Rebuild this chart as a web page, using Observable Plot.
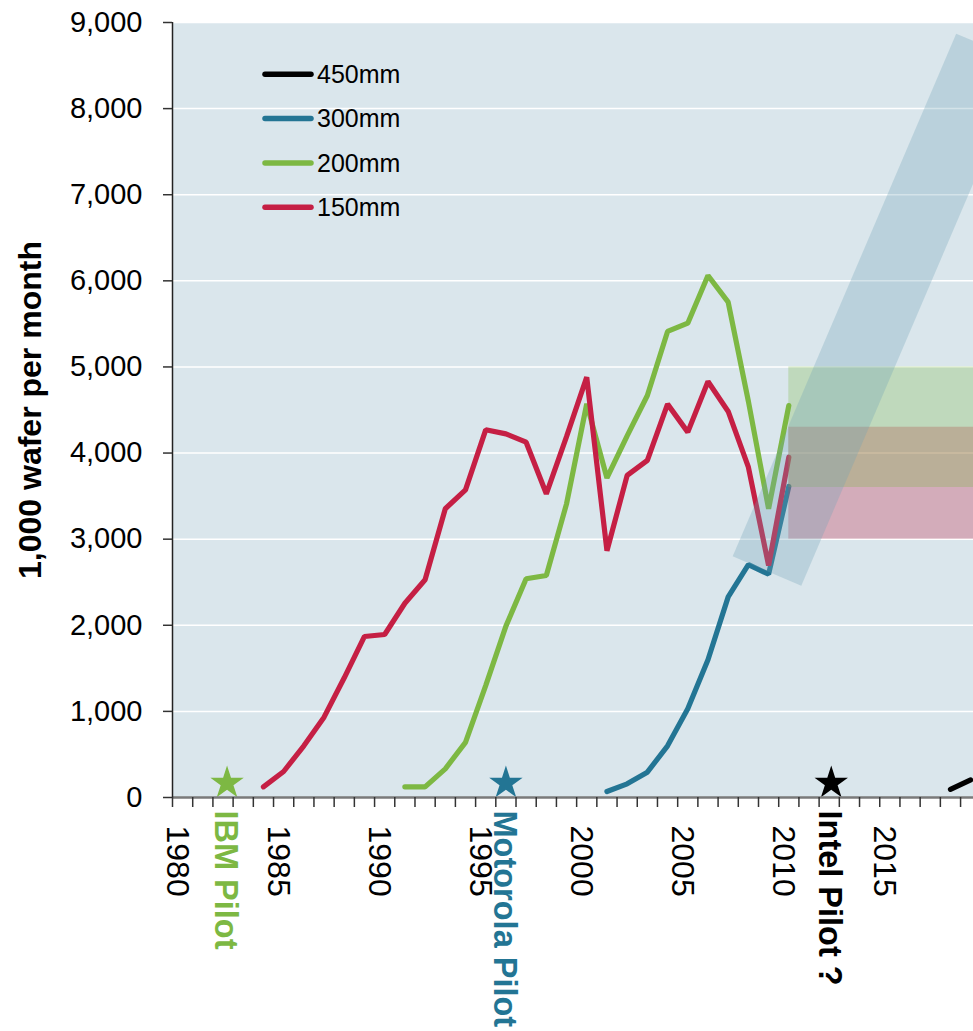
<!DOCTYPE html>
<html><head><meta charset="utf-8">
<script src="https://cdn.jsdelivr.net/npm/d3@7"></script>
<script src="https://cdn.jsdelivr.net/npm/@observablehq/plot@0.6"></script>
<style>
body{margin:0;background:#fff;}
#wrap{position:relative;width:973px;height:1031px;overflow:hidden;font-family:"Liberation Sans",Arial,sans-serif;}
#legend{position:absolute;left:0;top:0;}
</style></head><body><div id="wrap"></div>
<script>
// ---- data ----
const sizes = ["450mm", "300mm", "200mm", "150mm"];
const sizeColors = ["#000000", "#237594", "#7db843", "#c51f44"];

const years450 = [2018, 2019];
const wafers450 = [95, 205];

const years300 = [2001, 2002, 2003, 2004, 2005, 2006, 2007, 2008, 2009, 2010];
const wafers300 = [70, 159, 294, 600, 1030, 1600, 2330, 2705, 2593, 3612];

const years200 = [1991, 1992, 1993, 1994, 1995, 1996, 1997, 1998, 1999, 2000,
                  2001, 2002, 2003, 2004, 2005, 2006, 2007, 2008, 2009, 2010];
const wafers200 = [124, 124, 333, 640, 1300, 1990, 2540, 2578, 3410, 4571,
                   3711, 4200, 4668, 5412, 5508, 6062, 5752, 4600, 3353, 4552];

const years150 = [1984, 1985, 1986, 1987, 1988, 1989, 1990, 1991, 1992, 1993,
                  1994, 1995, 1996, 1997, 1998, 1999, 2000, 2001, 2002, 2003,
                  2004, 2005, 2006, 2007, 2008, 2009, 2010];
const wafers150 = [124, 302, 600, 933, 1390, 1870, 1893, 2256, 2528, 3353,
                   3573, 4270, 4223, 4126, 3527, 4190, 4881, 2865, 3740, 3914,
                   4568, 4243, 4831, 4483, 3836, 2694, 3952];

// forecast ranges after 2010
const rangeSizes = ["150mm", "200mm"];
const rangeLow = [3000, 3600];
const rangeHigh = [4300, 5000];
const rangeStart = [2010, 2010];
const rangeEnd = [2021, 2021];
const rangeColors = ["#c41e42", "#7ab842"];
const rangeOpacity = [0.29, 0.28];

// 450mm growth corridor (centre line)
const corridorYears = [2009.42, 2020.48];
const corridorValues = [2630, 8700];

// pilot lines
const pilotNames = ["IBM Pilot", "Motorola Pilot", "Intel Pilot ?"];
const pilotYears = [1982.7, 1996.5, 2012.6];
const pilotLevel = [167, 167, 167];
const pilotColors = ["#7db843", "#237594", "#000000"];

const yTicks = [0, 1000, 2000, 3000, 4000, 5000, 6000, 7000, 8000, 9000];
const xTickYears = [1980,1981,1982,1983,1984,1985,1986,1987,1988,1989,1990,1991,1992,1993,1994,1995,1996,1997,1998,1999,
                    2000,2001,2002,2003,2004,2005,2006,2007,2008,2009,2010,2011,2012,2013,2014,2015,2016,2017,2018,2019];
const xLabelYears = [1980, 1985, 1990, 1995, 2000, 2005, 2010, 2015];
const yTitle = "1,000 wafer per month";

// ---- build tables ----
const seriesYears = {"450mm": years450, "300mm": years300, "200mm": years200, "150mm": years150};
const seriesVals = {"450mm": wafers450, "300mm": wafers300, "200mm": wafers200, "150mm": wafers150};
const rows = [];
for (const s of sizes) seriesYears[s].forEach((y, i) => rows.push({size: s, year: y, value: seriesVals[s][i]}));
const ranges = rangeSizes.map((s, i) => ({size: s, low: rangeLow[i], high: rangeHigh[i], start: rangeStart[i], end: rangeEnd[i], color: rangeColors[i], op: rangeOpacity[i]}));
const corridor = corridorYears.map((y, i) => ({year: y, value: corridorValues[i]}));
const pilots = pilotNames.map((n, i) => ({name: n, year: pilotYears[i], level: pilotLevel[i], color: pilotColors[i]}));

const font = '"Liberation Sans", Arial, sans-serif';
const mid = d => d.year + 0.5; // category centre

const chart = Plot.plot({
  width: 973, height: 1031,
  marginLeft: 172, marginRight: 0, marginTop: 22, marginBottom: 234,
  style: {fontFamily: font, background: "transparent", color: "#000", overflow: "visible"},
  x: {domain: [1980, 2019.64], axis: null},
  y: {domain: [0, 9000], axis: null},
  color: {domain: sizes, range: sizeColors},
  marks: [
    Plot.frame({fill: "#dae6ec", stroke: null}),
    Plot.gridY(yTicks.slice(1), {stroke: "#ffffff", strokeOpacity: 1, strokeWidth: 1.5}),
    Plot.line(rows, {x: mid, y: "value", z: "size", stroke: "size", strokeWidth: 5.2,
      strokeLinejoin: "miter", strokeLinecap: "round", clip: true}),
    ...ranges.map(r => Plot.rect([r], {x1: d => d.start + 0.5, x2: "end", y1: "low", y2: "high",
      fill: r.color, fillOpacity: r.op, clip: true})),
    Plot.line(corridor, {x: "year", y: "value", stroke: "#6fa3b7", strokeOpacity: 0.3,
      strokeWidth: 74.6, strokeLinecap: "butt", clip: true}),
    Plot.dot(pilots, {x: "year", y: "level", symbol: "star", r: 10.5, fill: "color", stroke: null}),
    Plot.ruleY([0], {stroke: "#7a7a7a", strokeWidth: 2.5}),
    Plot.ruleX([1980], {stroke: "#222", strokeWidth: 1.5}),
    Plot.axisY({ticks: yTicks, tickSize: 9, tickPadding: 21, fontSize: 29, tickFormat: d3.format(","),
      stroke: "#333", strokeWidth: 1.5, label: null}),
    Plot.axisX({ticks: xTickYears, tickSize: 10, tickFormat: () => "", stroke: "#333",
      strokeWidth: 1.5, label: null}),
    Plot.text(xLabelYears, {x: d => d, text: d => String(d), frameAnchor: "bottom", rotate: 90,
      textAnchor: "start", lineAnchor: "middle", fontSize: 32, dx: 5, dy: 28, fill: "#000"}),
    Plot.text(pilots, {x: "year", text: "name", frameAnchor: "bottom", rotate: 90,
      textAnchor: "start", lineAnchor: "middle", fontSize: 32.5, fontWeight: "bold", dx: -2, dy: 13, fill: "color"}),
    Plot.text([yTitle], {frameAnchor: "left", text: d => d, rotate: -90, textAnchor: "middle",
      lineAnchor: "middle", fontSize: 32, fontWeight: "bold", dx: -142, fill: "#000"})
  ]
});
const wrap = document.getElementById("wrap");
wrap.appendChild(chart);

// legend overlay
const leg = d3.select(wrap).append("svg").attr("id", "legend").attr("width", 973).attr("height", 260);
sizes.forEach((s, i) => {
  const g = leg.append("g").attr("transform", `translate(263,${74.3 + i * 44.3})`);
  g.append("line").attr("x1", 2).attr("x2", 48).attr("stroke", sizeColors[i])
    .attr("stroke-width", 5.5).attr("stroke-linecap", "round");
  g.append("text").attr("x", 54).attr("dy", "0.35em").attr("font-size", 25)
    .attr("font-family", font).attr("fill", "#000").text(s);
});
</script></body></html>
